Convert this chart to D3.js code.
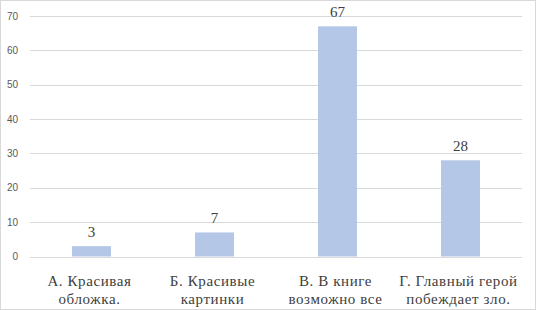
<!DOCTYPE html>
<html>
<head>
<meta charset="utf-8">
<script src="https://cdn.jsdelivr.net/npm/d3@7"></script>
<style>
  body { margin: 0; background: #fff; }
  svg { display: block; }
  .serif { font-family: "Liberation Serif", "Times New Roman", serif; }
</style>
</head>
<body>
<svg id="chart"></svg>
<script>
// данные
const categories = [
  ["А. Красивая", "обложка."],
  ["Б. Красивые", "картинки"],
  ["В. В книге", "возможно все"],
  ["Г. Главный герой", "побеждает зло."]
];
const values = [3, 7, 67, 28];
const yTicks = [0, 10, 20, 30, 40, 50, 60, 70];

const width = 536, height = 310;
const margin = { top: 16, right: 14, bottom: 53.5, left: 30 };

const svg = d3.select("#chart")
  .attr("width", width)
  .attr("height", height);

// рамка
svg.append("rect")
  .attr("x", 0.5).attr("y", 0.5)
  .attr("width", width - 1).attr("height", height - 1)
  .attr("fill", "#fff")
  .attr("stroke", "#d9d9d9");

const innerW = width - margin.left - margin.right;
const innerH = height - margin.top - margin.bottom;

const g = svg.append("g")
  .attr("transform", `translate(${margin.left},${margin.top})`);

const x = d3.scaleBand()
  .domain(d3.range(categories.length))
  .range([0, innerW])
  .paddingInner(0.683)
  .paddingOuter(0.3415);

const y = d3.scaleLinear()
  .domain([0, 70])
  .range([innerH, 0]);

// сетка
g.append("g")
  .selectAll("line")
  .data(yTicks)
  .join("line")
  .attr("x1", 0).attr("x2", innerW)
  .attr("y1", d => Math.round(y(d)) + 0.5)
  .attr("y2", d => Math.round(y(d)) + 0.5)
  .attr("stroke", "#d9d9d9");

// ось Y
const yAxis = g.append("g")
  .call(d3.axisLeft(y).tickValues(yTicks).tickSize(0).tickPadding(12));
yAxis.select(".domain").remove();
yAxis.selectAll("text")
  .attr("font-family", "'Liberation Sans', Arial, sans-serif")
  .attr("font-size", 10)
  .attr("fill", "#595959");

// столбцы
g.selectAll(".bar")
  .data(values)
  .join("rect")
  .attr("class", "bar")
  .attr("x", (d, i) => x(i))
  .attr("width", x.bandwidth())
  .attr("y", d => y(d))
  .attr("height", d => y(0) - y(d))
  .attr("fill", "#b4c7e7");

// подписи значений
g.selectAll(".label")
  .data(values)
  .join("text")
  .attr("class", "label serif")
  .attr("x", (d, i) => x(i) + x.bandwidth() / 2)
  .attr("y", d => y(d) - 9.5)
  .attr("text-anchor", "middle")
  .style("font-size", "15px")
  .attr("fill", "#404040")
  .text(d => d);

// подписи категорий
const catG = g.selectAll(".cat")
  .data(categories)
  .join("text")
  .attr("class", "cat serif")
  .attr("text-anchor", "middle")
  .style("font-size", "15px")
  .style("letter-spacing", "0.6px")
  .attr("fill", "#404040");

catG.selectAll("tspan")
  .data((d, i) => d.map(t => ({ t, i })))
  .join("tspan")
  .attr("x", d => x(d.i) + x.bandwidth() / 2 - 2)
  .attr("y", (d, j) => innerH + 29.5 + j * 17.5)
  .text(d => d.t);
</script>
</body>
</html>
